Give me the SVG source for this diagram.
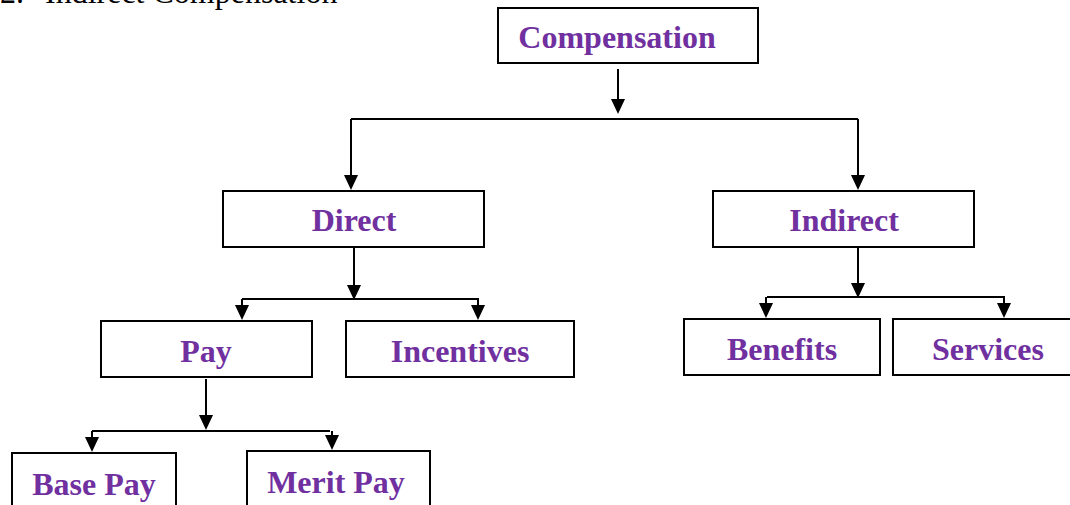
<svg xmlns="http://www.w3.org/2000/svg" width="1070" height="505" viewBox="0 0 1070 505">
<style>
.box{fill:#fff;stroke:#000;stroke-width:2}
.lbl{font-family:"Liberation Serif",serif;font-weight:bold;font-size:32px;fill:#7030A0;text-anchor:middle}
.ln{fill:none;stroke:#000;stroke-width:2}
.ah{fill:#000}
.hdr{font-family:"Liberation Serif",serif;font-size:32px;fill:#000}
</style>
<rect width="1070" height="505" fill="#fff"/>
<text class="hdr" x="0" y="3">2.</text>
<text class="hdr" x="45" y="3">Indirect Compensation</text>
<g id="connectors">
<path class="ln" d="M618,69 V100"/>
<path class="ah" d="M611,99 L625,99 L618,114 Z"/>
<path class="ln" d="M351,119 H858"/>
<path class="ln" d="M351,119 V176"/>
<path class="ah" d="M344,175 L358,175 L351,190 Z"/>
<path class="ln" d="M858,119 V176"/>
<path class="ah" d="M851,175 L865,175 L858,190 Z"/>

<path class="ln" d="M354,248 V286"/>
<path class="ah" d="M347,285 L361,285 L354,300 Z"/>
<path class="ln" d="M242,299 H479"/>
<path class="ln" d="M242,299 V307"/>
<path class="ah" d="M235,305 L249,305 L242,320 Z"/>
<path class="ln" d="M478,299 V307"/>
<path class="ah" d="M471,305 L485,305 L478,320 Z"/>

<path class="ln" d="M858,248 V284"/>
<path class="ah" d="M851,283 L865,283 L858,298 Z"/>
<path class="ln" d="M767,297 H1005"/>
<path class="ln" d="M766,297 V305"/>
<path class="ah" d="M759,303 L773,303 L766,318 Z"/>
<path class="ln" d="M1004,297 V305"/>
<path class="ah" d="M997,303 L1011,303 L1004,318 Z"/>

<path class="ln" d="M206,379 V416"/>
<path class="ah" d="M199,415 L213,415 L206,430 Z"/>
<path class="ln" d="M92,431 H330"/>
<path class="ln" d="M92,431 V439"/>
<path class="ah" d="M85,437 L99,437 L92,452 Z"/>
<path class="ln" d="M332,431 V437"/>
<path class="ah" d="M325,435 L339,435 L332,450 Z"/>
</g>
<g id="compensation"><rect class="box" x="498" y="8" width="260" height="55"/><text class="lbl" x="617" y="48">Compensation</text></g>
<g id="direct"><rect class="box" x="223" y="191" width="261" height="56"/><text class="lbl" x="354" y="231">Direct</text></g>
<g id="indirect"><rect class="box" x="713" y="191" width="261" height="56"/><text class="lbl" x="844" y="231">Indirect</text></g>
<g id="pay"><rect class="box" x="101" y="321" width="211" height="56"/><text class="lbl" x="206" y="362">Pay</text></g>
<g id="incentives"><rect class="box" x="346" y="321" width="228" height="56"/><text class="lbl" x="460" y="362">Incentives</text></g>
<g id="benefits"><rect class="box" x="684" y="319" width="196" height="56"/><text class="lbl" x="782" y="360">Benefits</text></g>
<g id="services"><rect class="box" x="893" y="319" width="190" height="56"/><text class="lbl" x="988" y="360">Services</text></g>
<g id="basepay"><rect class="box" x="12" y="453" width="164" height="60"/><text class="lbl" x="94" y="495">Base Pay</text></g>
<g id="meritpay"><rect class="box" x="247" y="451" width="183" height="60"/><text class="lbl" x="336" y="493">Merit Pay</text></g>
</svg>
